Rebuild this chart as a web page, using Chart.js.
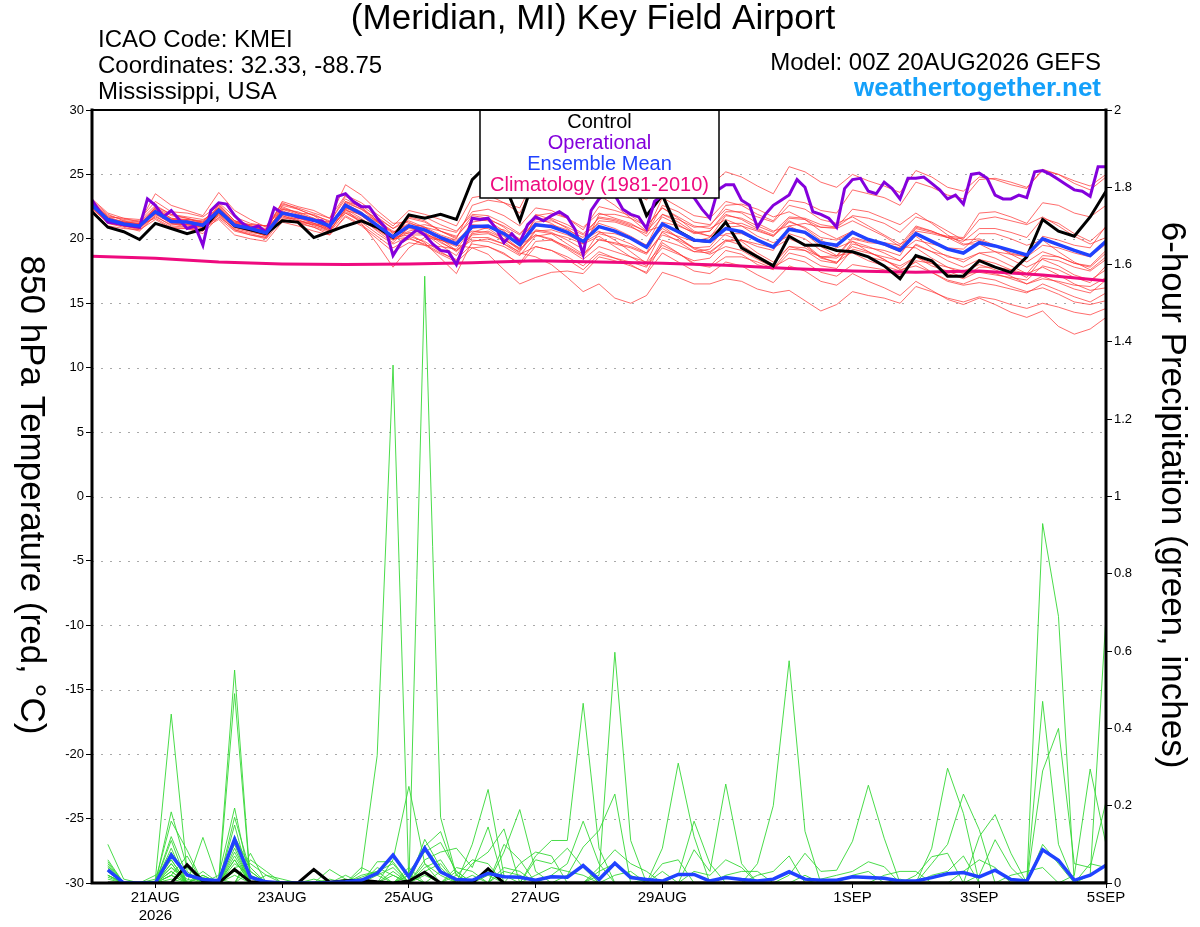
<!DOCTYPE html>
<html>
<head>
<meta charset="utf-8">
<title>KMEI GEFS 850 hPa temperature and precipitation</title>
<script src="https://cdn.jsdelivr.net/npm/chart.js@4.4.1/dist/chart.umd.min.js"></script>
<style>
  html, body { margin: 0; padding: 0; background: #fff; }
  #wrap { width: 1200px; height: 927px; position: relative; }
</style>
</head>
<body>
<div id="wrap"><canvas id="gefs-chart" width="1200" height="927"></canvas></div>
<script>
'use strict';

// ******** DATA **************
// x positions are forecast hours from 00Z 20AUG2026
let tickHours = [24, 72, 120, 168, 216, 288, 336, 384];
let tickLabels = [['21AUG', '2026'], '23AUG', '25AUG', '27AUG', '29AUG', '1SEP', '3SEP', '5SEP'];
let gridTemps = [-25, -20, -15, -10, -5, 0, 5, 10, 15, 20, 25];

// 6-hourly, hour 0 .. 384
let controlTemp = [22.1, 20.9, 20.55, 19.95, 21.2, 20.8, 20.4, 20.75, 22.2, 21.0,
  20.7, 20.4, 21.4, 21.3, 20.1, 20.55, 21.0, 21.4, 20.9, 20.1,
  21.85, 21.6, 21.9, 21.5, 24.6, 25.8, 24.3, 21.4, 25.0, 25.3,
  24.8, 25.2, 24.6, 24.5, 25.0, 21.8, 23.4, 20.6, 19.9, 19.8,
  21.3, 19.3, 18.6, 17.9, 20.2, 19.5, 19.5, 19.1, 19.0, 18.6,
  17.9, 16.9, 18.7, 18.3, 17.1, 17.1, 18.3, 17.8, 17.4, 18.6,
  21.5, 20.6, 20.2, 21.7, 23.7];

let meanTemp = [22.6, 21.5, 21.15, 21.0, 22.1, 21.35, 21.3, 21.05, 22.2, 21.05, 20.8, 20.45,
  22.0, 21.75, 21.45, 21.0, 22.6, 21.95, 21.05, 20.15, 21.0, 20.7, 20.1, 19.6,
  20.95, 21.0, 20.4, 19.55, 21.1, 20.95, 20.5, 19.8, 20.95, 20.6, 20.05, 19.35,
  21.15, 20.55, 19.9, 19.8, 20.8, 20.55, 19.9, 19.35, 20.75, 20.5, 19.7, 19.5,
  20.5, 19.95, 19.6, 19.1, 20.4, 19.8, 19.2, 18.9, 19.7, 19.45, 19.1, 18.75,
  20.0, 19.55, 19.1, 18.7, 19.8];

// 3-hourly, hour 0 .. 384
let operationalTemp = [23.0, 22.1, 21.3, 21.2, 21.1, 21.0, 20.9, 23.1, 22.6, 21.7,
  22.2, 21.5, 20.8, 21.0, 19.5, 22.2, 22.8, 22.7, 21.8, 21.2,
  20.8, 21.0, 20.5, 22.4, 22.0, 21.9, 21.7, 21.6, 21.4, 21.4,
  20.9, 23.3, 23.5, 22.9, 22.5, 22.5, 21.6, 20.9, 18.7, 19.7,
  20.2, 20.7, 20.3, 19.6, 19.1, 19.0, 18.0, 19.6, 21.6, 21.5,
  21.6, 20.8, 19.7, 20.4, 19.7, 21.1, 21.7, 21.4, 21.8, 22.1,
  21.7, 20.7, 18.8, 22.2, 23.1, 23.6, 23.4, 22.3, 21.9, 21.7,
  20.8, 22.9, 23.4, 23.8, 24.0, 23.6, 23.2, 22.3, 21.6, 23.8,
  24.2, 24.2, 23.0, 22.6, 20.9, 21.9, 22.6, 23.0, 23.4, 24.6,
  24.0, 22.1, 21.9, 21.6, 20.9, 23.9, 24.6, 24.7, 23.7, 23.5,
  24.4, 23.9, 23.1, 24.7, 24.7, 24.8, 24.3, 23.8, 23.1, 23.4,
  22.7, 25.0, 25.1, 24.7, 23.4, 23.1, 23.1, 23.4, 23.2, 25.2,
  25.3, 25.0, 24.6, 24.2, 23.8, 23.7, 23.3, 25.6, 25.6];

// daily, hour 0 .. 384
let climoTemp = [18.65, 18.5, 18.2, 18.05, 18.0, 18.05, 18.15, 18.3, 18.2,
  18.1, 17.95, 17.7, 17.5, 17.4, 17.5, 17.2, 16.75];

// 20 perturbed members, 6-hourly, hour 0 .. 384
let memberTemps = [
  [22.9,21.8,21.5,21.4, 22.6,21.9,21.6,21.3, 22.8,21.7,21.2,21.0, 22.7,22.4,22.0,21.6, 23.4,22.8,21.9,21.0, 22.2,21.9,21.5,21.0, 23.2,23.4,22.8,22.0, 24.3,24.4,23.8,23.0, 24.6,24.3,23.8,23.0, 25.5,25.0,24.3,24.1, 25.2,24.8,24.1,23.5, 25.6,25.2,24.4,24.0, 25.0,24.5,24.1,23.6, 25.3,24.8,24.0,23.7, 24.8,24.6,24.2,23.9, 25.4,25.0,24.5,24.1, 25.0],
  [22.4,21.2,20.9,20.6, 21.8,21.0,20.9,20.6, 21.9,20.7,20.3,20.0, 21.5,21.2,20.9,20.3, 21.8,21.1,20.2,19.3, 20.0,19.6,18.9,18.4, 19.6,19.4,18.9,18.0, 19.4,19.1,18.6,17.9, 19.0,18.5,18.0,17.3, 18.9,18.2,17.5,17.3, 18.2,17.9,17.2,16.6, 17.9,17.5,16.7,16.4, 17.3,16.7,16.2,15.6, 16.7,16.0,15.3,14.9, 15.4,14.9,14.3,13.9, 14.4,13.2,12.6,13.0, 13.9],
  [22.8,21.6,21.0,20.9, 22.4,21.8,21.6,21.2, 22.0,21.0,20.9,20.3, 22.3,22.1,21.6,20.8, 22.9,22.5,21.4,20.0, 20.6,20.9,20.6,20.1, 21.8,21.6,20.9,19.9, 20.6,20.4,19.6,18.8, 19.9,19.7,19.4,18.9, 21.3,21.0,20.5,20.6, 21.9,21.5,20.8,20.3, 21.4,20.8,19.9,19.3, 19.8,19.0,18.4,17.7, 18.6,17.9,17.5,17.0, 17.8,17.8,17.6,17.3, 18.7,18.6,18.1,17.9, 19.1],
  [22.7,21.4,21.3,21.2, 21.9,21.2,20.9,20.7, 22.7,21.4,21.1,21.0, 21.7,21.3,20.9,20.5, 22.0,21.3,20.4,19.6, 20.2,19.8,19.0,18.3, 20.4,20.6,20.0,19.2, 21.8,22.0,21.6,20.7, 22.5,22.2,21.8,21.0, 22.4,21.6,20.6,20.2, 20.3,19.8,18.9,18.2, 19.4,19.3,18.6,18.7, 20.1,19.8,19.7,19.5, 21.0,20.6,20.1,19.8, 20.8,20.8,20.5,20.1, 21.6,21.2,20.4,19.8, 20.9],
  [22.3,21.3,21.4,21.3, 23.5,22.6,22.2,21.8, 23.6,22.2,21.5,20.9, 22.5,22.0,21.9,21.3, 23.3,22.6,21.7,20.8, 21.7,21.4,20.6,20.2, 21.5,21.4,20.6,19.5, 20.3,20.0,19.3,18.6, 20.0,19.6,19.3,18.8, 20.5,19.8,19.0,18.9, 19.9,19.9,19.4,19.1, 21.0,21.2,20.9,20.9, 22.3,22.1,21.6,21.1, 22.0,21.2,20.3,19.6, 19.6,19.0,18.4,17.8, 18.4,17.9,17.2,16.8, 17.6],
  [23.0,21.9,21.4,21.1, 21.6,20.9,20.8,20.4, 21.7,20.8,20.5,20.3, 22.6,22.3,21.8,21.4, 22.1,21.5,20.8,19.9, 20.5,20.4,19.9,19.6, 21.3,21.5,21.0,20.3, 21.9,21.5,20.8,19.9, 20.6,19.9,19.0,18.1, 19.5,18.9,18.1,17.9, 19.1,18.8,18.0,17.6, 18.9,18.6,17.9,17.7, 19.2,18.9,18.6,18.3, 19.5,19.0,18.7,18.2, 18.9,18.5,17.9,17.3, 17.8,17.2,16.5,16.0, 16.2],
  [22.5,21.6,21.0,20.8, 22.3,21.6,21.5,21.4, 22.4,21.2,20.7,20.2, 21.8,21.4,21.1,20.8, 22.8,22.3,21.6,20.8, 21.4,20.9,20.0,19.1, 19.9,19.8,19.4,18.7, 20.2,20.4,20.1,19.6, 21.4,21.3,20.9,20.4, 22.6,22.1,21.3,21.1, 22.3,22.0,21.2,20.6, 21.0,20.4,19.4,18.7, 18.9,18.3,17.9,17.5, 18.2,17.4,16.7,16.4, 16.6,16.4,16.1,15.8, 16.5,16.0,15.5,15.1, 15.8],
  [22.8,21.7,21.3,21.0, 22.0,21.3,21.0,20.8, 21.5,20.3,20.0,19.8, 21.3,21.0,20.6,20.3, 21.7,21.0,20.0,19.0, 19.7,19.5,19.4,19.2, 20.8,21.0,20.5,19.9, 21.5,21.6,21.1,20.4, 21.6,21.4,21.0,20.2, 21.7,21.1,20.4,20.6, 22.1,22.1,21.7,21.3, 22.6,22.3,21.5,21.2, 21.7,21.0,20.3,19.6, 20.2,19.3,18.6,18.4, 18.9,19.0,18.8,18.6, 20.2,19.9,19.5,19.3, 21.0],
  [22.6,21.4,21.0,21.2, 22.3,21.5,21.5,21.3, 22.3,21.3,21.0,20.6, 22.9,22.5,22.2,21.6, 24.2,23.4,22.2,21.2, 21.3,20.7,19.8,19.0, 20.1,20.1,19.6,18.8, 19.4,19.1,18.4,17.6, 18.8,18.5,18.2,17.8, 19.9,19.5,19.0,19.2, 20.4,20.4,19.9,19.3, 20.0,19.5,18.5,18.2, 19.0,18.6,18.3,17.9, 18.6,18.1,17.3,16.9, 17.5,17.3,16.9,16.5, 16.9,16.7,16.4,16.3, 17.0],
  [22.9,21.7,21.6,21.5, 22.9,22.1,22.0,21.7, 22.6,21.4,21.0,20.7, 22.2,21.7,21.2,20.6, 22.3,21.6,20.6,19.7, 20.9,21.1,20.8,20.5, 22.1,22.3,21.8,21.0, 22.4,22.2,21.6,20.9, 22.0,21.6,21.2,20.5, 23.2,22.5,21.8,21.6, 22.9,22.6,21.9,21.4, 23.0,22.8,22.2,22.0, 23.8,23.5,23.2,22.6, 24.4,24.0,23.4,23.1, 24.6,24.7,24.4,24.0, 25.3,25.0,24.3,23.8, 24.8],
  [22.2,21.0,20.8,20.7, 21.5,20.8,20.8,20.6, 21.9,20.9,20.6,20.2, 21.6,21.6,21.2,20.9, 22.4,22.0,21.4,20.6, 20.4,19.7,18.5,17.3, 19.8,20.0,19.6,19.0, 20.6,20.7,20.3,19.7, 20.4,20.1,19.6,18.9, 20.3,19.9,19.3,19.4, 20.9,21.0,20.6,20.2, 21.6,21.5,20.9,20.8, 21.4,20.8,20.2,19.4, 19.3,18.5,17.8,17.3, 17.4,17.2,17.0,16.8, 17.9,17.6,17.0,16.6, 17.9],
  [22.7,21.5,21.2,21.0, 22.5,21.9,21.7,21.5, 22.1,20.9,20.6,20.4, 22.4,22.0,21.5,20.9, 22.5,21.8,20.9,20.0, 21.6,21.3,20.6,20.0, 22.6,23.0,22.8,22.4, 24.8,24.9,24.2,23.3, 23.4,22.6,21.6,20.6, 21.0,20.1,19.2,18.8, 19.4,19.1,18.4,17.8, 18.5,18.2,17.4,17.1, 18.0,17.8,17.6,17.2, 18.3,18.1,17.8,17.5, 18.0,17.6,17.1,16.5, 17.1,16.6,16.1,15.8, 16.8],
  [22.4,21.3,21.0,20.7, 21.9,21.5,21.2,21.0, 22.4,21.3,21.0,20.8, 22.1,21.6,21.4,20.7, 22.9,22.3,21.3,20.5, 21.2,20.9,20.3,19.9, 20.9,20.8,20.0,19.1, 20.7,20.5,19.9,19.2, 21.9,21.9,21.6,21.0, 22.4,21.7,21.0,20.8, 21.5,21.0,20.2,19.7, 20.2,19.6,18.6,18.1, 19.6,19.3,19.1,18.7, 20.6,20.4,20.1,20.0, 21.5,21.7,21.4,21.1, 21.7,21.0,20.2,19.6, 20.1],
  [22.6,21.6,21.3,21.2, 22.2,21.3,21.1,20.9, 21.8,20.7,20.4,20.1, 22.0,21.8,21.6,21.2, 22.7,22.1,21.0,20.0, 20.1,19.5,18.8,18.2, 19.3,19.4,18.8,18.1, 19.8,19.9,19.4,18.7, 20.5,20.4,20.0,19.5, 20.8,20.1,19.3,19.0, 19.9,19.5,18.7,18.0, 19.4,19.1,18.3,18.1, 19.8,19.4,18.9,18.3, 19.6,19.0,18.3,17.8, 18.4,18.1,17.6,17.0, 18.5,18.3,17.8,17.5, 18.4],
  [23.1,22.0,21.6,21.3, 22.4,21.6,21.4,21.2, 22.2,21.0,20.7,20.5, 21.5,21.3,21.1,20.7, 22.2,21.9,21.3,20.4, 21.8,21.7,21.1,20.6, 21.9,21.8,21.2,20.4, 21.6,21.2,20.4,19.6, 20.2,19.4,18.6,17.9, 19.3,18.8,18.3,18.5, 19.8,19.9,19.6,19.3, 20.4,20.0,19.1,18.6, 20.0,19.7,19.6,19.3, 20.9,20.6,20.1,19.5, 19.9,19.4,18.9,18.6, 19.5,19.3,18.9,18.6, 19.6],
  [22.5,21.5,21.1,20.9, 21.7,21.1,21.1,20.9, 22.5,21.2,20.9,20.7, 22.8,22.3,21.8,21.0, 22.0,21.4,20.7,19.9, 20.8,20.6,20.2,19.8, 20.6,20.5,19.8,18.9, 18.6,18.0,17.0,15.9, 16.5,15.4,15.0,15.6, 17.4,17.0,16.5,16.5, 16.9,16.7,16.1,15.8, 16.0,15.2,14.4,14.9, 15.9,15.6,15.4,15.0, 16.3,15.9,15.4,15.1, 15.5,15.3,14.9,14.6, 15.0,14.7,14.3,14.1, 14.6],
  [22.8,21.5,21.1,21.1, 22.2,21.4,21.2,20.9, 22.0,21.2,21.1,21.0, 22.3,21.9,21.5,21.3, 23.1,22.4,21.4,20.5, 21.1,20.4,19.5,18.7, 20.5,20.9,20.7,20.0, 21.3,21.4,20.9,20.3, 21.2,20.8,20.2,19.5, 21.9,21.5,20.9,21.0, 22.6,22.7,22.3,21.7, 22.1,21.5,20.6,20.0, 20.6,20.0,19.6,19.0, 19.9,19.6,19.3,19.2, 20.4,20.4,20.0,19.5, 19.9,19.0,18.2,17.6, 18.6],
  [22.6,21.5,21.2,20.9, 22.0,21.3,21.4,21.2, 22.6,21.4,20.9,20.6, 21.9,21.5,21.0,20.6, 22.3,21.2,19.6,17.8, 19.3,20.1,19.9,19.4, 21.1,21.0,20.2,19.2, 20.3,19.9,19.2,18.4, 19.4,19.0,18.6,18.2, 20.6,20.2,19.8,20.1, 21.8,21.6,21.0,20.5, 21.7,21.6,21.1,20.9, 21.8,21.6,21.2,20.5, 21.7,21.3,20.6,19.9, 20.0,19.5,18.8,18.2, 19.0,18.6,18.1,17.8, 18.9],
  [22.9,21.6,21.3,21.1, 22.1,21.5,21.3,21.0, 22.1,21.0,20.8,20.6, 22.0,21.7,21.4,21.1, 22.6,22.0,21.0,20.2, 20.9,20.5,19.7,19.1, 20.3,20.4,19.9,19.3, 21.0,21.1,20.7,20.1, 21.7,21.5,21.1,20.6, 21.9,21.3,20.5,20.2, 21.2,21.2,20.7,20.2, 21.3,20.9,20.1,19.9, 20.5,20.0,19.5,19.0, 20.8,20.5,20.2,20.1, 22.0,22.1,21.7,21.2, 22.8,22.6,22.0,21.7, 22.6],
  [22.5,21.2,21.0,20.8, 22.0,21.2,21.1,21.0, 21.6,20.6,20.3,20.1, 21.8,21.4,21.2,20.9, 22.4,21.8,20.9,20.1, 20.3,20.3,19.9,19.5, 19.3,18.8,17.6,16.5, 17.0,17.4,17.5,17.3, 18.6,18.3,17.9,17.4, 19.7,18.9,18.0,17.8, 18.6,18.6,18.2,17.7, 19.2,19.1,18.6,18.5, 19.4,19.0,18.4,17.6, 17.9,17.4,16.8,16.5, 17.0,16.8,16.3,15.9, 16.2,15.7,15.1,14.9, 15.2]
];

// 6-hour precipitation (inches), hour 6 .. 384
let controlPrecip = [
  0,0,0,0,0,0.047,0.005,0,0.035,0.003,0,0,0,0.035,0.002,0.006,
  0.007,0.003,0,0.005,0.028,0,0,0,0.037,0,0,0,0,0,0,0,
  0,0,0,0,0,0,0,0,0,0,0,0,0,0,0,0,
  0,0,0,0,0,0,0,0,0,0,0,0,0,0,0,0];

let meanPrecip = [
  0.034,0,0,0,0.072,0.021,0.009,0.006,0.113,0.015,0.003,0,0,0,0.001,0.003,
  0.007,0.025,0.072,0.016,0.09,0.029,0.009,0.007,0.025,0.016,0.015,0.007,0.016,0.015,0.045,0.009,
  0.051,0.014,0.009,0.005,0.022,0.022,0.005,0.014,0.009,0.005,0.010,0.029,0.010,0.007,0.007,0.016,
  0.014,0.012,0.005,0.005,0.014,0.024,0.027,0.016,0.033,0.009,0.005,0.086,0.059,0.007,0.020,0.046];

let memberPrecip = [
  [0.10,0.01,0,0.01,0.437,0.03,0,0,0,0.077,0,0,0,0,0,0,
   0,0,0,0,0,0,0,0.02,0,0.03,0.02,0,0,0,0,0,
   0.02,0.03,0,0.05,0.06,0,0,0,0,0,0,0,0,0,0,0,
   0,0,0,0,0,0,0,0.02,0.112,0.04,0,0,0,0,0,0],
  [0.055,0,0,0,0.184,0.04,0,0.01,0.551,0,0,0,0,0,0,0,
   0,0,0.02,0,0,0,0,0,0.02,0,0,0,0,0,0,0.03,
   0.05,0.02,0,0,0,0,0,0,0,0,0,0,0,0,0,0,
   0,0,0,0,0,0,0,0,0,0.02,0.03,0.04,0,0,0,0],
  [0.05,0,0,0.005,0.16,0.085,0,0,0.49,0,0,0,0,0,0,0.01,
   0,0,0,0,0,0,0,0,0,0,0,0.02,0.04,0.03,0.02,0,
   0,0,0.01,0,0,0,0,0,0,0,0,0,0,0,0,0,
   0,0,0,0,0,0,0,0,0,0,0,0.1,0.05,0,0.05,0.04],
  [0,0,0,0,0.11,0,0.118,0,0,0.06,0.03,0,0,0,0,0,
   0.03,0.33,1.34,0,0,0,0,0,0,0,0,0,0,0,0,0,
   0,0,0,0.03,0,0,0,0,0,0,0,0,0,0,0,0,
   0,0,0,0,0,0,0,0,0,0,0,0,0,0,0.02,0.69],
  [0.04,0,0,0,0.07,0.02,0,0.02,0.194,0,0,0,0,0,0,0,
   0,0,0,0,1.57,0.17,0.02,0,0,0,0,0,0,0,0,0,
   0,0,0,0,0.02,0.16,0.05,0,0,0,0,0,0,0,0,0,
   0,0,0,0,0,0,0,0,0,0,0,0,0,0,0,0],
  [0.03,0,0,0,0.05,0,0.02,0,0.17,0.03,0,0,0,0,0,0,
   0,0,0.06,0.25,0.05,0,0,0,0,0,0,0,0,0,0,0,
   0,0,0,0,0,0.03,0.02,0.06,0.04,0,0,0,0,0,0,0,
   0,0,0,0,0,0,0,0,0,0,0,0,0,0,0,0],
  [0.02,0,0,0,0.12,0.02,0,0,0.15,0,0,0,0,0,0,0,
   0.04,0.02,0,0,0.113,0.04,0,0.1,0.242,0.02,0,0,0,0,0,0,
   0,0,0,0,0,0,0,0.02,0.03,0.03,0,0,0,0,0,0,
   0,0,0,0,0,0,0,0,0,0,0,0,0,0,0,0],
  [0.06,0,0,0,0.09,0,0.03,0,0.12,0.04,0,0,0,0,0,0,
   0,0.055,0.055,0,0.095,0.133,0.02,0,0,0.08,0.19,0.03,0,0,0,0,
   0,0,0,0,0,0,0,0,0,0.02,0.03,0.07,0,0,0,0,
   0,0,0,0,0,0,0,0,0,0,0,0,0,0,0,0],
  [0.03,0,0,0,0.03,0,0,0.01,0.1,0,0.02,0.01,0,0,0,0,
   0,0,0,0.03,0.08,0.105,0.03,0,0,0,0,0.07,0.11,0.11,0.465,0.09,
   0,0,0,0,0,0,0,0,0,0,0,0,0.02,0,0,0,
   0,0,0,0,0,0,0,0,0,0,0,0,0,0,0,0],
  [0,0,0,0.02,0.06,0,0.02,0,0.08,0,0,0,0,0,0,0,
   0.02,0.03,0,0,0.06,0.08,0.09,0.04,0.145,0,0,0,0,0,0,0.02,
   0.597,0.11,0,0,0,0,0,0,0,0,0,0,0,0,0,0,
   0,0,0,0,0,0,0,0,0,0,0,0,0,0,0,0],
  [0.02,0,0,0,0.02,0.07,0,0,0.06,0,0,0,0,0.01,0,0,
   0,0,0,0.04,0,0.03,0,0.05,0.08,0.14,0,0,0,0,0,0,
   0,0,0,0.09,0.31,0.12,0,0,0,0,0,0,0,0,0,0,
   0,0,0,0,0,0,0,0,0,0,0,0,0,0,0,0],
  [0,0,0,0,0.04,0.01,0,0,0.05,0.02,0,0,0,0,0,0,
   0,0.02,0.04,0,0,0,0.02,0.06,0.05,0,0,0,0,0,0,0,
   0,0,0,0,0,0.086,0.03,0.256,0.05,0,0,0,0,0,0,0,
   0,0,0,0,0,0,0,0,0,0,0,0,0,0.02,0.295,0.1],
  [0.04,0,0,0,0.08,0,0,0,0.09,0,0,0,0,0,0,0,
   0.01,0,0,0,0.04,0.06,0,0,0,0.1,0.06,0,0,0,0,0,
   0,0,0,0,0,0,0,0,0,0.05,0.2,0.575,0.134,0,0,0,
   0,0,0,0,0,0,0,0,0,0,0,0,0,0,0,0],
  [0.01,0,0,0,0.03,0,0.015,0,0.07,0,0,0,0,0,0.035,0.01,
   0,0,0,0.02,0,0,0.03,0,0.03,0,0,0,0,0,0,0,
   0,0,0,0,0,0,0,0,0,0,0,0.02,0.077,0.03,0.033,0.108,
   0.253,0.116,0,0,0,0,0,0,0,0,0,0,0,0,0,0],
  [0,0,0,0,0.01,0,0,0,0.04,0.05,0.02,0,0,0,0,0,
   0,0.04,0.02,0,0,0,0,0,0,0.04,0.03,0,0,0,0,0,
   0,0,0,0,0,0,0,0,0,0,0,0,0,0.01,0.02,0.03,
   0.055,0.042,0,0,0.09,0.297,0.18,0,0,0,0,0,0,0,0,0],
  [0.03,0,0,0,0.06,0,0,0,0.02,0,0,0,0,0,0.01,0,
   0,0,0.03,0,0.03,0,0,0,0,0,0.05,0.08,0.07,0,0,0,
   0,0,0,0,0,0,0,0,0,0,0,0,0,0,0,0.02,
   0.03,0,0.01,0,0.05,0.1,0.23,0.138,0,0,0,0,0,0,0,0],
  [0.02,0,0,0,0.05,0,0,0,0.03,0,0,0,0,0,0,0.02,
   0,0,0,0.02,0,0,0.04,0.03,0,0,0,0.06,0.05,0.09,0.04,0,
   0,0,0,0,0,0,0,0,0,0,0,0,0,0,0,0,
   0,0.02,0.03,0.03,0,0,0,0.12,0.177,0.077,0,0,0,0,0,0],
  [0,0,0,0,0.02,0,0,0.01,0,0.03,0,0,0,0,0,0,
   0.015,0.03,0.05,0,0.02,0,0,0,0,0,0,0,0.02,0.05,0.16,0.05,
   0,0,0,0,0,0,0,0,0,0,0,0,0,0,0,0,
   0,0,0,0.02,0.068,0.077,0,0,0,0,0,0.93,0.69,0,0,0],
  [0.045,0,0,0,0.04,0,0,0,0.06,0,0,0,0,0,0,0,
   0,0,0,0,0.05,0.02,0,0,0,0,0,0,0,0.02,0.093,0.136,
   0.23,0,0,0,0,0,0,0,0,0,0,0,0,0,0,0,
   0,0,0,0,0.02,0.03,0.07,0,0,0,0,0.47,0.1,0,0,0],
  [0.015,0,0,0,0.02,0,0,0,0.11,0.02,0,0,0,0,0,0,
   0,0,0,0,0.03,0.05,0,0,0,0,0,0,0,0,0,0.04,
   0.086,0.05,0.03,0,0,0,0,0,0,0,0,0,0,0,0,0,
   0,0,0,0,0,0,0.03,0.06,0.04,0,0,0.29,0.40,0.05,0.04,0.21]
];

// ******** STYLE **************
const FONT = '"Liberation Sans", Arial, Helvetica, sans-serif';
const RED = 'rgba(255, 50, 50, 0.8)';
const GREEN = '#35d835';
const PURPLE = '#8400dc';
const BLUE = '#2042ff';
const PINK = '#ee0a7e';

Chart.defaults.font.family = FONT;
Chart.defaults.color = '#000';

// *********** HELPER FUNCTIONS ***************
function toPoints(values, firstHour, stepHours) {
  return values.map((v, i) => ({ x: firstHour + i * stepHours, y: v }));
}

function lineSet(label, points, color, width, axis, order) {
  return {
    label: label,
    data: points,
    borderColor: color,
    borderWidth: width,
    yAxisID: axis,
    order: order,
    fill: false,
    pointRadius: 0,
    tension: 0
  };
}

let datasets = [];
memberTemps.forEach((vals, n) => {
  datasets.push(lineSet('member ' + (n + 1), toPoints(vals, 0, 6), RED, 0.9, 'y', 10));
});
memberPrecip.forEach((vals, n) => {
  datasets.push(lineSet('member precip ' + (n + 1), toPoints(vals, 6, 6), GREEN, 0.9, 'y1', 9));
});
datasets.push(lineSet('Climatology', toPoints(climoTemp, 0, 24), PINK, 3, 'y', 6));
datasets.push(lineSet('Control', toPoints(controlTemp, 0, 6), '#000', 3, 'y', 5));
datasets.push(lineSet('Operational', toPoints(operationalTemp, 0, 3), PURPLE, 3, 'y', 4));
datasets.push(lineSet('Ensemble Mean', toPoints(meanTemp, 0, 6), BLUE, 3.5, 'y', 3));
datasets.push(lineSet('Control precip', toPoints(controlPrecip, 6, 6), '#000', 3, 'y1', 2));
datasets.push(lineSet('Mean precip', toPoints(meanPrecip, 6, 6), BLUE, 3.5, 'y1', 1));

// ********* DECORATION PLUGIN ****************
let decorPlugin = {
  id: 'decor',
  beforeDatasetsDraw(chart) {
    let ctx = chart.ctx;
    let area = chart.chartArea;
    let yScale = chart.scales.y;
    ctx.save();
    ctx.strokeStyle = '#a9a9a9';
    ctx.lineWidth = 1;
    ctx.setLineDash([2, 7]);
    gridTemps.forEach(t => {
      let py = Math.round(yScale.getPixelForValue(t)) + 0.5;
      ctx.beginPath();
      ctx.moveTo(area.left, py);
      ctx.lineTo(area.right, py);
      ctx.stroke();
    });
    ctx.restore();
  },
  afterDatasetsDraw(chart) {
    let ctx = chart.ctx;
    let area = chart.chartArea;
    ctx.save();

    // legend box
    let bx = area.left + 388;
    let by = area.top;
    let bw = 239;
    let bh = 88;
    ctx.fillStyle = '#fff';
    ctx.fillRect(bx, by, bw, bh);
    ctx.strokeStyle = '#000';
    ctx.lineWidth = 1.5;
    ctx.strokeRect(bx, by, bw, bh);
    let entries = [['Control', '#000'], ['Operational', PURPLE], ['Ensemble Mean', BLUE], ['Climatology (1981-2010)', PINK]];
    ctx.font = '20px ' + FONT;
    ctx.textAlign = 'center';
    ctx.textBaseline = 'middle';
    entries.forEach((e, i) => {
      ctx.fillStyle = e[1];
      ctx.fillText(e[0], bx + bw / 2, by + 12 + i * 21.3);
    });

    // frame
    ctx.strokeStyle = '#000';
    ctx.lineCap = 'square';
    ctx.lineWidth = 2;
    ctx.beginPath();
    ctx.moveTo(area.left, area.top);
    ctx.lineTo(area.right, area.top);
    ctx.stroke();
    ctx.lineWidth = 3;
    ctx.beginPath();
    ctx.moveTo(area.left, area.top);
    ctx.lineTo(area.left, area.bottom);
    ctx.lineTo(area.right, area.bottom);
    ctx.lineTo(area.right, area.top);
    ctx.stroke();
    ctx.restore();
  },
  afterDraw(chart) {
    let ctx = chart.ctx;
    ctx.save();
    ctx.fillStyle = '#000';
    ctx.textBaseline = 'middle';

    ctx.textAlign = 'center';
    ctx.font = '35px ' + FONT;
    ctx.fillText('(Meridian, MI) Key Field Airport', 593, 19);

    ctx.textAlign = 'left';
    ctx.font = '24px ' + FONT;
    ctx.fillText('ICAO Code: KMEI', 98, 40);
    ctx.fillText('Coordinates: 32.33, -88.75', 98, 66);
    ctx.fillText('Mississippi, USA', 98, 92);

    ctx.textAlign = 'right';
    ctx.fillText('Model: 00Z 20AUG2026 GEFS', 1101, 63);
    ctx.font = 'bold 26px ' + FONT;
    ctx.fillStyle = '#14a0fa';
    ctx.fillText('weathertogether.net', 1101, 89);

    // axis titles, reading top to bottom
    ctx.fillStyle = '#000';
    ctx.font = '35px ' + FONT;
    ctx.textAlign = 'center';
    [[31, 495, '850 hPa Temperature (red, \u00B0C)'], [1172, 495, '6-hour Precipitation (green, inches)']].forEach(t => {
      ctx.save();
      ctx.translate(t[0], t[1]);
      ctx.rotate(Math.PI / 2);
      ctx.fillText(t[2], 0, 0);
      ctx.restore();
    });
    ctx.restore();
  }
};

// ********* CHART ****************
let chartCanvas = document.getElementById('gefs-chart');

new Chart(chartCanvas, {
  type: 'line',
  data: { datasets: datasets },
  options: {
    responsive: false,
    animation: false,
    devicePixelRatio: 1,
    layout: { padding: { top: 110, left: 0, right: 0, bottom: 0 } },
    plugins: {
      legend: { display: false },
      tooltip: { enabled: false },
      title: { display: false }
    },
    scales: {
      x: {
        type: 'linear',
        position: 'bottom',
        min: 0,
        max: 384,
        afterBuildTicks: scale => { scale.ticks = tickHours.map(h => ({ value: h })); },
        afterFit: scale => { scale.height = 44; },
        ticks: {
          autoSkip: false,
          maxRotation: 0,
          padding: 1,
          color: '#000',
          font: { size: 15 },
          callback: value => tickLabels[tickHours.indexOf(value)]
        },
        grid: { drawOnChartArea: false, drawTicks: true, tickLength: 5, color: '#000', lineWidth: 1 },
        border: { display: false }
      },
      y: {
        position: 'left',
        min: -30,
        max: 30,
        afterFit: scale => { scale.width = 92; },
        ticks: { stepSize: 5, padding: 2, color: '#000', font: { size: 13 } },
        grid: { drawOnChartArea: false, drawTicks: true, tickLength: 6, color: '#000', lineWidth: 1 },
        border: { display: false }
      },
      y1: {
        position: 'right',
        min: 0,
        max: 2,
        afterFit: scale => { scale.width = 94; },
        ticks: {
          stepSize: 0.2,
          padding: 2,
          color: '#000',
          font: { size: 13 },
          callback: value => String(Math.round(value * 10) / 10)
        },
        grid: { drawOnChartArea: false, drawTicks: true, tickLength: 6, color: '#000', lineWidth: 1 },
        border: { display: false }
      }
    }
  },
  plugins: [decorPlugin]
});
</script>
</body>
</html>
